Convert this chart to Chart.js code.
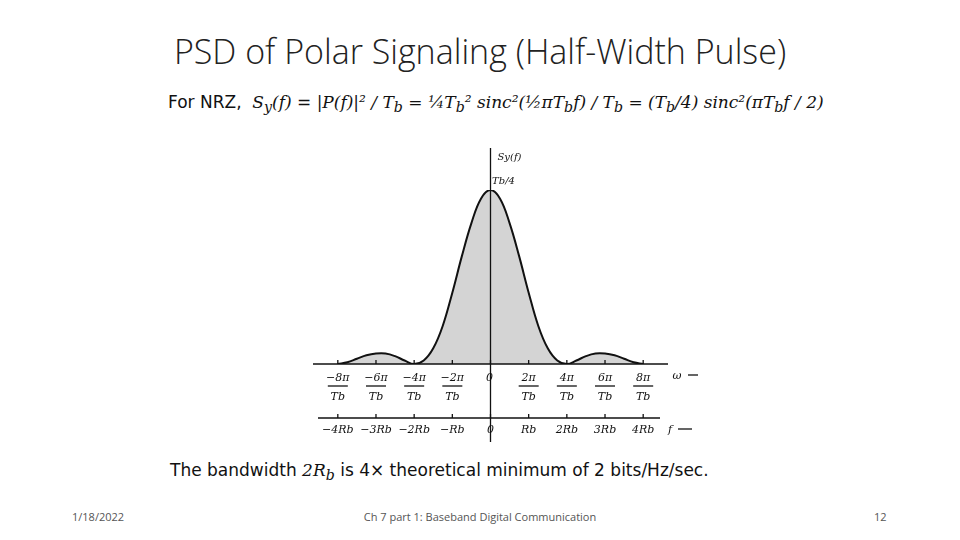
<!DOCTYPE html>
<html>
<head>
<meta charset="utf-8">
<script src="https://cdn.jsdelivr.net/npm/chart.js@4/dist/chart.umd.min.js"></script>
<style>
  body { margin: 0; width: 960px; height: 540px; background: #fff; position: relative; overflow: hidden; font-family: "DejaVu Sans", sans-serif; }
  #wrap { position: absolute; left: 0; top: 0; width: 960px; height: 540px; }
  .t { position: absolute; white-space: nowrap; }
</style>
</head>
<body>
<div class="t" style="left:0;width:960px;text-align:center;top:28px;font-family:'Open Sans',sans-serif;font-weight:300;font-size:34px;color:#222;">PSD of Polar Signaling (Half-Width Pulse)</div>
<div class="t" style="left:168px;top:92px;font-size:17px;color:#111;">For NRZ,&nbsp; <i style="font-family:'DejaVu Serif',serif">S<sub>y</sub>(f)</i> = <span style="font-family:'DejaVu Serif',serif;font-style:italic">|P(f)|² / T<sub>b</sub> = ¼T<sub>b</sub>² sinc²(½πT<sub>b</sub>f) / T<sub>b</sub> = (T<sub>b</sub>/4) sinc²(πT<sub>b</sub>f / 2)</span></div>
<div class="t" style="left:170px;top:460px;font-size:17px;color:#111;">The bandwidth <i style="font-family:'DejaVu Serif',serif">2R<sub>b</sub></i> is 4× theoretical minimum of 2 bits/Hz/sec.</div>
<div class="t" style="left:72px;top:509px;font-size:11px;color:#555;font-family:'Open Sans',sans-serif;">1/18/2022</div>
<div class="t" style="left:0;width:960px;text-align:center;top:509px;font-size:11px;color:#555;font-family:'Open Sans',sans-serif;">Ch 7 part 1: Baseband Digital Communication</div>
<div class="t" style="left:874px;top:509px;font-size:11px;color:#555;font-family:'Open Sans',sans-serif;">12</div>
<div id="wrap"><canvas id="c" width="960" height="540"></canvas></div>
<script>
// f in units of Rb, PSD normalised to Tb/4
const fValues = [-4,-3.75,-3.5,-3.25,-3,-2.75,-2.5,-2.25,-2,-1.75,-1.5,-1.25,-1,-0.75,-0.5,-0.25,0,
                 0.25,0.5,0.75,1,1.25,1.5,1.75,2,2.25,2.5,2.75,3,3.25,3.5,3.75,4];
const psdValues = [0,0.01,0.03,0.05,0.06,0.06,0.045,0.02,0,0.02,0.09,0.22,0.41,0.62,0.81,0.95,1,
                   0.95,0.81,0.62,0.41,0.22,0.09,0.02,0,0.02,0.045,0.06,0.06,0.05,0.03,0.01,0];
const omegaTicks = [-8,-6,-4,-2,0,2,4,6,8];
const fTickLabels = ['−4Rb','−3Rb','−2Rb','−Rb','0','Rb','2Rb','3Rb','4Rb'];

const axesPlugin = {
  id: 'axes',
  afterDatasetsDraw(chart) {
    const ctx = chart.ctx, x = chart.scales.x, y = chart.scales.y;
    const y0 = y.getPixelForValue(0), x0 = x.getPixelForValue(0);
    ctx.save();
    ctx.strokeStyle = '#111'; ctx.fillStyle = '#111'; ctx.lineWidth = 1.3;
    // omega axis
    ctx.beginPath(); ctx.moveTo(313, y0); ctx.lineTo(668, y0); ctx.stroke();
    // vertical axis
    ctx.beginPath(); ctx.moveTo(x0, 148); ctx.lineTo(x0, 442); ctx.stroke();
    // f axis
    const yf = 418;
    ctx.beginPath(); ctx.moveTo(318, yf); ctx.lineTo(660, yf); ctx.stroke();
    ctx.font = 'italic 11px "DejaVu Serif", serif';
    ctx.textAlign = 'center';
    omegaTicks.forEach((w, i) => {
      const px = x.getPixelForValue(w / 2);
      ctx.beginPath(); ctx.moveTo(px, y0); ctx.lineTo(px, y0 - 4); ctx.stroke();
      ctx.beginPath(); ctx.moveTo(px, yf); ctx.lineTo(px, yf - 4); ctx.stroke();
      if (w !== 0) {
        const num = (w < 0 ? '−' : '') + Math.abs(w) + 'π';
        ctx.fillText(num, px, y0 + 17);
        ctx.beginPath(); ctx.moveTo(px - 10, y0 + 22); ctx.lineTo(px + 10, y0 + 22); ctx.stroke();
        ctx.fillText('Tb', px, y0 + 36);
      } else {
        ctx.fillText('0', px - 1, y0 + 17);
      }
      ctx.fillText(fTickLabels[i], px, yf + 15);
    });
    ctx.fillText('ω', 677, y0 + 15);
    ctx.fillText('f', 670, yf + 15);
    // arrows
    ctx.beginPath(); ctx.moveTo(688, y0 + 11); ctx.lineTo(698, y0 + 11); ctx.stroke();
    ctx.beginPath(); ctx.moveTo(678, yf + 11); ctx.lineTo(692, yf + 11); ctx.stroke();
    ctx.font = 'italic 10px "DejaVu Serif", serif';
    ctx.fillText('Sy(f)', x0 + 19, 160);
    ctx.fillText('Tb/4', x0 + 13, 184);
    ctx.restore();
  }
};

new Chart(document.getElementById('c'), {
  type: 'line',
  data: {
    labels: fValues,
    datasets: [{
      data: fValues.map((f, i) => ({ x: f, y: psdValues[i] })),
      borderColor: '#111', borderWidth: 2, pointRadius: 0, tension: 0.4,
      fill: 'origin', backgroundColor: '#d4d4d4'
    }]
  },
  options: {
    responsive: false, animation: false,
    layout: { padding: { left: 313, right: 292, top: 190, bottom: 176 } },
    scales: {
      x: { type: 'linear', min: -4.65, max: 4.65, display: false },
      y: { min: 0, max: 1, display: false }
    },
    plugins: { legend: { display: false }, tooltip: { enabled: false } }
  },
  plugins: [axesPlugin]
});
</script>
</body>
</html>
